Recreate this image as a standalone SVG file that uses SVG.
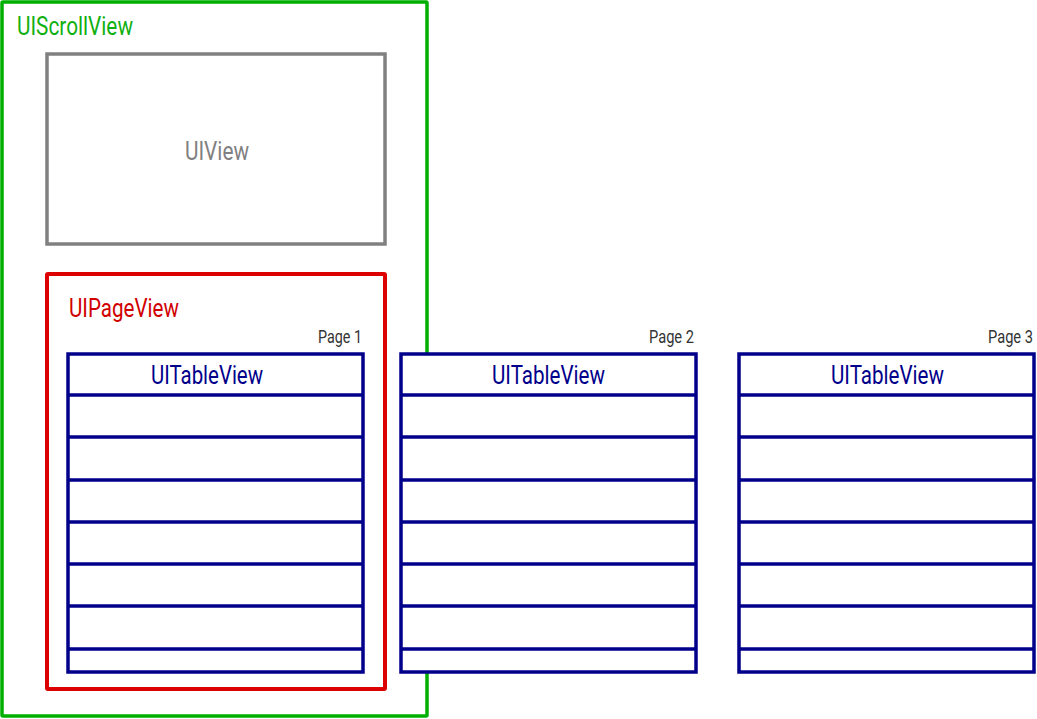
<svg xmlns="http://www.w3.org/2000/svg" width="1037" height="719" viewBox="0 0 1037 719">
<style>
text{font-family:Roboto,"Liberation Sans",sans-serif}
.big{font-size:26px}
.pg{font-size:18px;fill:#333}
.tv{fill:#fff;stroke:#00008b;stroke-width:3.5}
.row{stroke:#00008b;stroke-width:3.5}
.tt{font-size:26px;fill:#00008b}
</style>
<rect width="1037" height="719" fill="#fff"/>
<g id="scroll"><rect x="2" y="2" width="425" height="714" fill="none" stroke="#00b000" stroke-width="3.5" rx="1"/>
<text class="big" x="17" y="35" fill="#10b010" textLength="116" lengthAdjust="spacingAndGlyphs">UIScrollView</text></g>
<g id="uiview"><rect x="47" y="54" width="338" height="190" fill="none" stroke="#808080" stroke-width="3.5"/>
<text class="big" x="185" y="160" fill="#808080" textLength="64" lengthAdjust="spacingAndGlyphs">UIView</text></g>
<g id="page"><rect x="47" y="274" width="338" height="415" fill="none" stroke="#dd0000" stroke-width="4" rx="1"/>
<text class="big" x="69" y="317" fill="#d00000" textLength="110" lengthAdjust="spacingAndGlyphs">UIPageView</text></g>
<g id="t1"><text class="pg" x="318" y="343" textLength="44" lengthAdjust="spacingAndGlyphs">Page 1</text>
<rect class="tv" x="68" y="354" width="295" height="318"/>
<path class="row" d="M68 395H363M68 437H363M68 480H363M68 522H363M68 564H363M68 606H363M68 649H363"/>
<text class="tt" x="151" y="384" textLength="112" lengthAdjust="spacingAndGlyphs">UITableView</text></g>
<g id="t2"><text class="pg" x="649" y="343" textLength="45" lengthAdjust="spacingAndGlyphs">Page 2</text>
<rect class="tv" x="401" y="354" width="295" height="318"/>
<path class="row" d="M401 395H696M401 437H696M401 480H696M401 522H696M401 564H696M401 606H696M401 649H696"/>
<text class="tt" x="492" y="384" textLength="113" lengthAdjust="spacingAndGlyphs">UITableView</text></g>
<g id="t3"><text class="pg" x="988" y="343" textLength="45" lengthAdjust="spacingAndGlyphs">Page 3</text>
<rect class="tv" x="739" y="354" width="295" height="318"/>
<path class="row" d="M739 395H1034M739 437H1034M739 480H1034M739 522H1034M739 564H1034M739 606H1034M739 649H1034"/>
<text class="tt" x="831" y="384" textLength="113" lengthAdjust="spacingAndGlyphs">UITableView</text></g>
<g id="connectors"/>
</svg>
